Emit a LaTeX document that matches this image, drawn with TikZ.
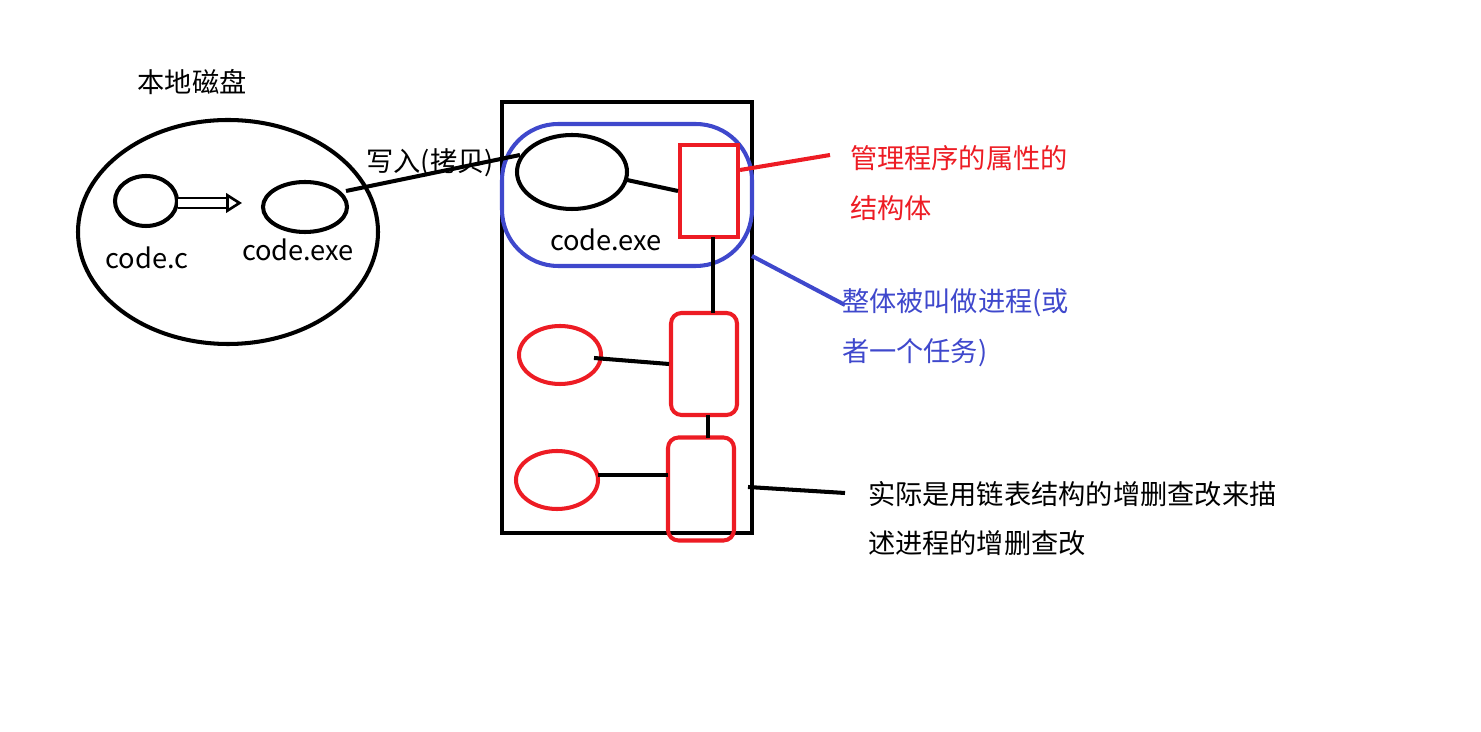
\documentclass[tikz,border=0pt]{standalone}
\usepackage{fontspec}
\setmainfont{Noto Sans CJK SC}
\usetikzlibrary{arrows.meta,shapes.geometric}
\definecolor{pRed}{RGB}{237,28,36}
\definecolor{pBlue}{RGB}{63,72,204}

\begin{document}
\begin{tikzpicture}[x=0.02cm,y=-0.02cm,line width=2.3pt,
    txt/.style={font=\fontsize{15.5}{18}\selectfont,inner sep=0pt},
    lbl/.style={txt,anchor=west},
    red box/.style={draw=pRed,line width=2.3pt,rounded corners=6pt},
    red oval/.style={draw=pRed,line width=2.3pt,ellipse}]
\useasboundingbox (0,0) rectangle (1481,732);

% local disk
\draw (228,232) ellipse (150 and 112);
\draw (146,201) ellipse (31 and 25);
\draw (305,207) ellipse (42 and 25);
\coordinate (src) at (178,203);
\coordinate (dst) at (242,203);
\draw[double,double distance=4pt,line width=1.5pt,-{Triangle[open,length=9pt,width=11pt]}] (src) -- (dst);
\node[txt] (disk) at (192,82) {本地磁盘};
\node[txt] (cc) at (147,258) {code.c};
\node[txt] (ce) at (298,250) {code.exe};

% memory
\draw (502,102) rectangle (752,533);
\draw[draw=pBlue,rounded corners=32pt] (502,124) rectangle (752,266);
\draw (572,172) ellipse (55 and 37);
\node[txt] (ce2) at (606,240) {code.exe};
\node[draw=pRed,minimum width=58*0.02cm,minimum height=92*0.02cm,line width=2.3pt] (p1) at (709,191) {};
\node[red box,minimum width=66*0.02cm,minimum height=102*0.02cm] (p2) at (704,364) {};
\node[red box,minimum width=66*0.02cm,minimum height=103*0.02cm] (p3) at (701,489) {};
\node[red oval,minimum width=82*0.02cm,minimum height=58*0.02cm] (e2) at (560,355) {};
\node[red oval,minimum width=82*0.02cm,minimum height=58*0.02cm] (e3) at (557,480) {};

\coordinate (a1) at (627,180);
\draw (a1) -- (p1.west);
\draw (713,237) -- (713,313);
\draw (594,358) -- (p2.west);
\draw (708,415) -- (708,438);
\draw (598,475) -- (668,475);

% notes
\coordinate (w1) at (346,191);
\coordinate (w2) at (520,155);
\draw (w1) -- (w2);
\node[txt] (write) at (430,163) {写入(拷贝)};

\draw[pRed] (740,170) -- (830,155);
\node[lbl,text=pRed] (n1) at (848,158) {管理程序的属性的};
\node[lbl,text=pRed] (n2) at (848,208) {结构体};

\draw[pBlue] (752,256) -- (845,305);
\node[lbl,text=pBlue] (n3) at (840,303) {整体被叫做进程(或};
\node[lbl,text=pBlue] (n4) at (840,353) {者一个任务)};

\draw (748,487) -- (845,493);
\node[lbl] (n5) at (866,494) {实际是用链表结构的增删查改来描};
\node[lbl] (n6) at (866,543) {述进程的增删查改};
\end{tikzpicture}
\end{document}
